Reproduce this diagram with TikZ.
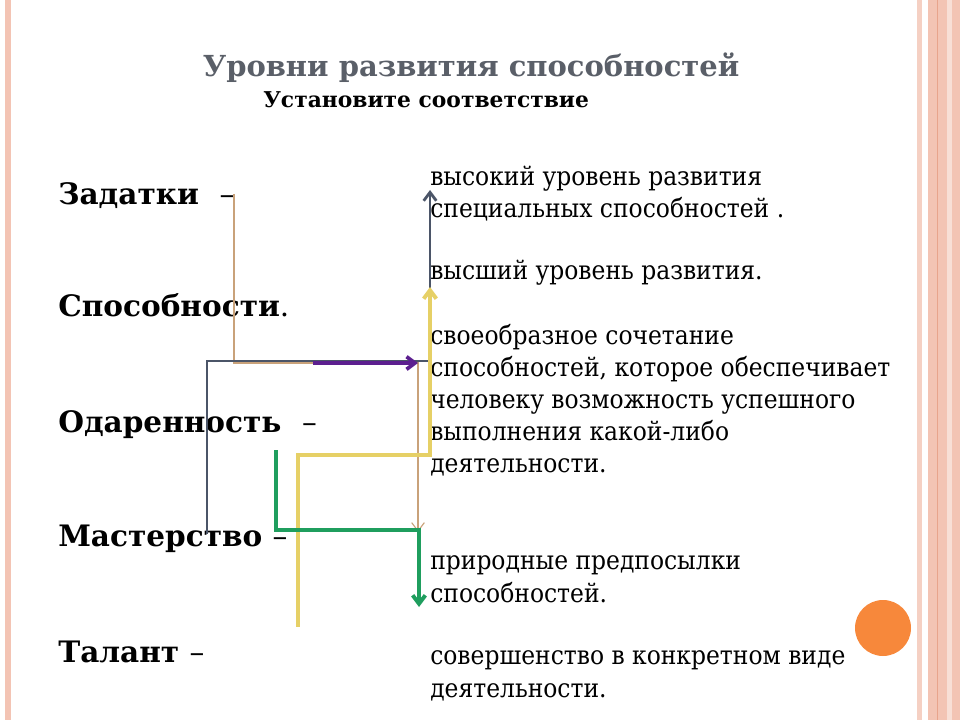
\documentclass[tikz,border=0pt]{standalone}
\usepackage{fontspec}
\setmainfont{DejaVu Serif}
\newfontfamily\deffont[FakeStretch=0.9]{DejaVu Serif}
\usepackage{xcolor}
\usetikzlibrary{arrows.meta}
\definecolor{stripe}{HTML}{F3C4B4}
\definecolor{stripedk}{HTML}{E8A48C}
\definecolor{titlegray}{HTML}{5A5F68}
\definecolor{slate}{HTML}{4B5568}
\definecolor{lineyel}{HTML}{E6D066}
\definecolor{linegrn}{HTML}{1F9E5E}
\definecolor{lineprp}{HTML}{5C1F8F}
\definecolor{linetan}{HTML}{C9A27A}
\definecolor{dotorange}{HTML}{F7883B}

\begin{document}
\begin{tikzpicture}[x=0.025cm,y=-0.025cm,
  term/.style={anchor=base west,inner sep=0pt,font=\fontsize{21}{25}\selectfont\bfseries},
  defn/.style={anchor=base west,inner sep=0pt,align=left,font=\deffont\fontsize{18.5}{22.8}\selectfont},
  conn/.style={line cap=rect,line join=miter},
  tip/.style={-{Straight Barb[length=6pt,width=9pt]}}]
\useasboundingbox (0,0) rectangle (960,720);
% side stripes
\fill[stripe] (5,0) rectangle (11,720);
\fill[stripe!80] (917,0) rectangle (922,720);
\fill[stripe] (928,0) rectangle (960,720);
\draw[stripedk,line width=0.6pt] (937,0)--(937,720);
\fill[stripe!55] (947,0) rectangle (952,720);
\fill[dotorange] (883,628) circle (28);
% headings
\node[anchor=base,inner sep=0pt,text=titlegray,font=\fontsize{20.6}{24}\selectfont\bfseries] (title) at (471,77) {Уровни развития способностей};
\node[anchor=base west,inner sep=0pt,font=\fontsize{15.5}{19}\selectfont\bfseries] (task) at (263,108) {Установите соответствие};
% terms
\node[term] (zad) at (58,205) {Задатки \ \textmd{–}};
\node[term] (spos) at (58,317) {Способности\textmd{.}};
\node[term] (odar) at (58,433) {Одаренность \ \textmd{–}};
\node[term] (mast) at (58,547) {Мастерство \textmd{–}};
\node[term] (tal) at (58,662) {Талант \textmd{–}};
% definitions (placed at the baseline of their last line)
\node[defn] (vys) at (430,218) {высокий уровень развития\\специальных способностей .};
\node[defn] (vysh) at (430,280) {высший уровень развития.};
\node[defn] (svoe) at (430,473) {своеобразное сочетание\\способностей, которое обеспечивает\\человеку возможность успешного\\выполнения какой-либо\\деятельности.};
\node[defn] (prir) at (430,602) {природные предпосылки\\способностей.};
\node[defn] (sover) at (430,697) {совершенство в конкретном виде\\деятельности.};
% connectors
\coordinate (t0) at (234,195); \coordinate (t1) at (418,532);
\coordinate (p0) at (315,363); \coordinate (p1) at (418,363);
\coordinate (s0) at (207,533); \coordinate (s1) at (430,190);
\coordinate (y0) at (298,625); \coordinate (y1) at (430,287);
\coordinate (g0) at (276,452); \coordinate (g1) at (419,607);
\draw[conn,tip,linetan,line width=0.8pt] (t0)--(t0|-p0)--(418,363)--(t1);
\draw[conn,tip,slate,line width=2pt] (s0)--(207,361)--(430,361)--(s1);
\draw[conn,tip,lineyel,line width=2.8pt] (y0)--(298,455)--(430,455)--(y1);
\draw[conn,tip,linegrn,line width=2.8pt] (g0)--(276,530)--(419,530)--(g1);
\draw[conn,tip,lineprp,line width=2.6pt] (p0)--(p1);
\end{tikzpicture}
\end{document}
